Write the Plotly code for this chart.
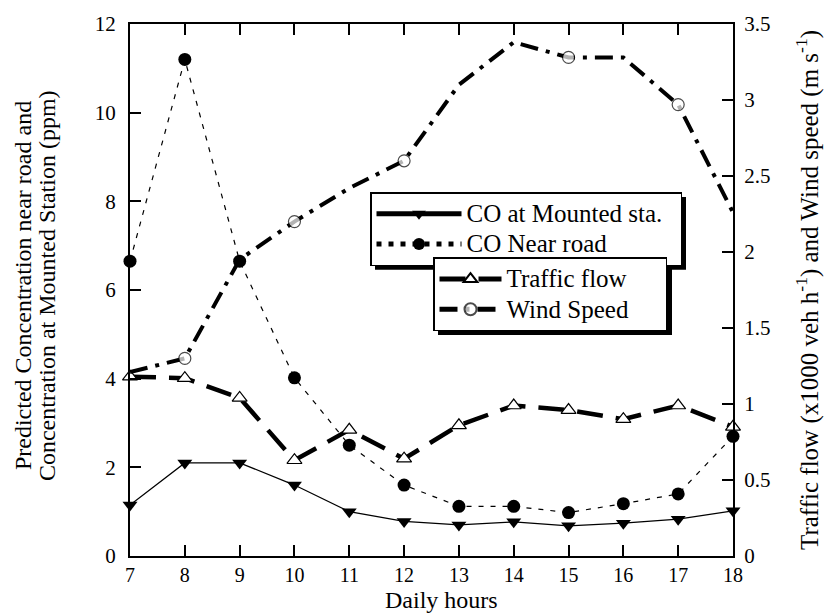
import plotly.graph_objects as go

# Hour of day
hours = [7, 8, 9, 10, 11, 12, 13, 14, 15, 16, 17, 18]

# CO concentrations (ppm), left axis
co_mounted = [1.15, 2.1, 2.1, 1.6, 1.0, 0.78, 0.7, 0.77, 0.68, 0.74, 0.83, 1.02]
co_near_road = [6.65, 11.2, 6.65, 4.02, 2.5, 1.6, 1.12, 1.12, 0.98, 1.18, 1.4, 2.7]

# Traffic flow (x1000 veh/h) and wind speed (m/s), right axis
traffic_flow = [1.18, 1.17, 1.04, 0.63, 0.83, 0.64, 0.86, 0.99, 0.96, 0.9, 0.99, 0.85]
wind_speed = [1.21, 1.3, 1.95, 2.2, 2.42, 2.6, 3.1, 3.38, 3.28, 3.28, 2.97, 2.26]

SERIF = "Liberation Serif"
W, H = 831, 613
L, R, T, B = 130, 98, 18, 57
PW, PH = W - L - R, H - T - B
NBSP = "\u00a0"

# Legend geometry (pixels): left, top, symbol width
LEG1 = dict(left=370, top=188, itemwidth=85)
LEG2 = dict(left=433, top=254, itemwidth=62)
LEG_FONT = 21          # sets row height of the legend entries
LABEL_FONT = 25        # size the legend labels are drawn at
SHADOW = 5


def px_x(x):
    return (x - L) / PW


def px_y(y):
    return (H - B - y) / PH


def big(label, pad):
    return ("<span style='font-size:%dpx'>" % LABEL_FONT) + label + NBSP * pad + "</span>"


fig = go.Figure()

fig.add_trace(go.Scatter(
    x=hours, y=co_mounted, name=big("CO at Mounted sta.", 2), legend="legend",
    mode="lines+markers", cliponaxis=False,
    line=dict(color="black", width=1.2),
    marker=dict(symbol="triangle-down", size=13, color="black"),
))
fig.add_trace(go.Scatter(
    x=hours, y=co_near_road, name=big("CO Near road", 0), legend="legend",
    mode="lines+markers", cliponaxis=False,
    line=dict(color="black", width=1.2, dash="5px,7px"),
    marker=dict(symbol="circle", size=13, color="black"),
))
fig.add_trace(go.Scatter(
    x=hours, y=traffic_flow, name=big("Traffic flow", 0), legend="legend2",
    yaxis="y2", mode="lines+markers", cliponaxis=False,
    line=dict(color="black", width=4.5, dash="26px,13px"),
    marker=dict(symbol="triangle-up", size=13, color="white",
                line=dict(color="black", width=1.2)),
))
wind_marker_sizes = [0, 12, 0, 12, 0, 12, 0, 0, 12, 0, 12, 0]
fig.add_trace(go.Scatter(
    x=hours, y=wind_speed, name=big("Wind Speed", 5), legend="legend2",
    yaxis="y2", mode="lines+markers", cliponaxis=False,
    line=dict(color="black", width=4, dash="18px,8px,4px,8px"),
    marker=dict(symbol="circle", size=wind_marker_sizes, color="white",
                line=dict(color="black", width=1.2)),
))

axis_common = dict(
    showgrid=False, zeroline=False, showline=True, linecolor="black",
    linewidth=2, ticks="inside", ticklen=11, tickwidth=1.5,
    tickcolor="black",
)

legend_common = dict(
    xanchor="left", yanchor="top",
    bgcolor="white", bordercolor="black", borderwidth=1.5,
    font=dict(family=SERIF, size=LEG_FONT, color="black"),
    itemsizing="constant", tracegroupgap=0,
)

fig.update_layout(
    width=W, height=H,
    margin=dict(l=L, r=R, t=T, b=B),
    paper_bgcolor="white", plot_bgcolor="white",
    font=dict(family=SERIF, color="black"),
    xaxis=dict(range=[7, 18], dtick=1, mirror="ticks", ticklabelstandoff=0,
               tickfont=dict(family=SERIF, size=20, color="black"),
               **axis_common),
    yaxis=dict(range=[0, 12], dtick=2, ticklabelstandoff=8,
               tickfont=dict(family=SERIF, size=21, color="black"),
               **axis_common),
    yaxis2=dict(range=[0, 3.5], dtick=0.5, overlaying="y", side="right",
                ticklabelstandoff=5,
                tickfont=dict(family=SERIF, size=21, color="black"),
                **axis_common),
    legend=dict(x=px_x(LEG1["left"]), y=px_y(LEG1["top"]),
                itemwidth=LEG1["itemwidth"], **legend_common),
    legend2=dict(x=px_x(LEG2["left"]), y=px_y(LEG2["top"]),
                 itemwidth=LEG2["itemwidth"], **legend_common),
)

# Drop shadows behind the two legend boxes (box size follows plotly's
# vertical legend layout: text + itemwidth + 18 wide, 2 rows high)
row_h = LEG_FONT * 1.3 + 3
box_h = 2 * row_h + 13
for leg, right in [(LEG1, LEG1["left"] + 311), (LEG2, LEG2["left"] + 234)]:
    x0, y0 = leg["left"] + SHADOW, leg["top"] + SHADOW
    x1, y1 = right + SHADOW, leg["top"] + box_h + SHADOW
    fig.add_shape(type="rect", xref="paper", yref="paper",
                  x0=px_x(x0), x1=px_x(x1), y0=px_y(y1), y1=px_y(y0),
                  fillcolor="black", line=dict(width=0), layer="above")

title_font = dict(family=SERIF, size=24, color="black")
fig.add_annotation(text="Daily hours", xref="paper", yref="paper",
                   x=px_x(441), y=px_y(600), xanchor="center",
                   yanchor="middle", showarrow=False, font=title_font)
fig.add_annotation(text="Predicted Concentration near road and",
                   xref="paper", yref="paper", x=px_x(23), y=px_y(283),
                   xanchor="center", yanchor="middle", textangle=-90,
                   showarrow=False, font=title_font)
fig.add_annotation(text="Concentration at Mounted Station (ppm)",
                   xref="paper", yref="paper", x=px_x(47), y=px_y(283),
                   xanchor="center", yanchor="middle", textangle=-90,
                   showarrow=False, font=title_font)
fig.add_annotation(
    text="Traffic flow (x1000 veh h<sup>-1</sup>) and Wind speed (m s<sup>-1</sup>)",
    xref="paper", yref="paper", x=px_x(807), y=px_y(287),
    xanchor="center", yanchor="middle", textangle=-90,
    showarrow=False, font=dict(family=SERIF, size=25, color="black"))

fig.write_html("out.html")
